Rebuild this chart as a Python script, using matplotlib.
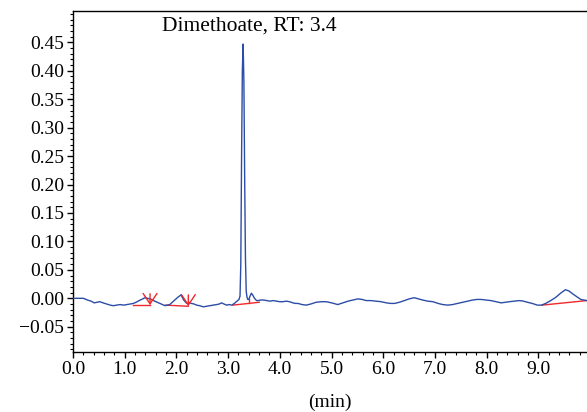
import numpy as np
import matplotlib
matplotlib.use("Agg")
import matplotlib.pyplot as plt
from matplotlib.ticker import MultipleLocator, FuncFormatter

# chromatogram trace (time in min, absorbance)
times = [0.00, 0.10, 0.20, 0.28, 0.35, 0.41, 0.47, 0.52, 0.58, 0.65, 0.72, 0.78,
         0.85, 0.91, 0.98, 1.04, 1.10, 1.17, 1.24, 1.30, 1.35, 1.39, 1.44, 1.49,
         1.54, 1.58, 1.63, 1.68, 1.73, 1.78, 1.83, 1.87, 1.92, 1.97, 2.03, 2.09,
         2.14, 2.20, 2.25, 2.29, 2.34, 2.39, 2.45, 2.52, 2.58, 2.65, 2.71, 2.78,
         2.83, 2.87, 2.92, 2.97, 3.02, 3.07, 3.12, 3.16, 3.19, 3.21, 3.23, 3.245,
         3.26, 3.275, 3.29, 3.305, 3.32, 3.335, 3.35, 3.365, 3.38, 3.40, 3.425,
         3.45, 3.48, 3.51, 3.55, 3.58, 3.63, 3.68, 3.74, 3.81, 3.87, 3.94, 4.00,
         4.06, 4.12, 4.19, 4.25, 4.30, 4.35, 4.43, 4.51, 4.60, 4.70, 4.80, 4.90,
         5.00, 5.12, 5.22, 5.32, 5.42, 5.51, 5.59, 5.67, 5.76, 5.86, 5.96, 6.06,
         6.14, 6.22, 6.31, 6.41, 6.50, 6.60, 6.68, 6.76, 6.86, 6.96, 7.06, 7.15,
         7.25, 7.34, 7.44, 7.53, 7.63, 7.73, 7.81, 7.89, 7.98, 8.08, 8.18, 8.28,
         8.36, 8.44, 8.54, 8.63, 8.71, 8.79, 8.88, 8.98, 9.06, 9.14, 9.24, 9.34,
         9.43, 9.52, 9.59, 9.66, 9.74, 9.82, 9.88, 9.94]
signal = [0.000, 0.000, 0.000, -0.003, -0.005, -0.008, -0.007, -0.006, -0.008, -0.010, -0.012, -0.013,
          -0.012, -0.011, -0.012, -0.011, -0.010, -0.009, -0.006, -0.003, -0.001, 0.001, 0.000, -0.001,
          -0.003, -0.005, -0.007, -0.009, -0.011, -0.013, -0.012, -0.011, -0.007, -0.003, 0.002, 0.006,
          -0.003, -0.009, -0.008, -0.009, -0.010, -0.012, -0.013, -0.015, -0.014, -0.013, -0.012, -0.011,
          -0.010, -0.008, -0.010, -0.012, -0.011, -0.012, -0.009, -0.006, -0.004, -0.002, 0.004, 0.060,
          0.250, 0.400, 0.447, 0.380, 0.210, 0.070, 0.012, 0.002, -0.002, -0.002, 0.004,
          0.009, 0.005, 0.000, -0.004, -0.004, -0.003, -0.003, -0.004, -0.005, -0.004, -0.005, -0.006,
          -0.006, -0.005, -0.006, -0.008, -0.009, -0.009, -0.011, -0.012, -0.010, -0.007, -0.006, -0.006,
          -0.008, -0.011, -0.008, -0.005, -0.003, -0.001, -0.002, -0.004, -0.004, -0.005, -0.006, -0.008,
          -0.009, -0.009, -0.007, -0.004, -0.001, 0.001, -0.001, -0.003, -0.005, -0.006, -0.009, -0.011,
          -0.012, -0.011, -0.009, -0.007, -0.005, -0.003, -0.002, -0.002, -0.003, -0.004, -0.006, -0.008,
          -0.007, -0.006, -0.005, -0.004, -0.005, -0.007, -0.009, -0.012, -0.012, -0.009, -0.004, 0.002,
          0.009, 0.015, 0.013, 0.008, 0.003, -0.002, -0.003, -0.004]

# integration baselines (start/end time, start/end value)
base_t0 = [1.16, 1.79, 3.09, 9.07]
base_t1 = [1.49, 2.23, 3.60, 9.94]
base_y0 = [-0.012, -0.012, -0.012, -0.012]
base_y1 = [-0.012, -0.014, -0.007, -0.004]

# peak split marker (drop line) and arrow marks
drop_t = 3.41
drop_y = [-0.008, -0.001]
arrow_t = [1.49, 2.23]
arrow_tip = [-0.012, -0.014]
arrow_top = [0.008, 0.006]

label_text = "Dimethoate, RT: 3.4"
label_t, label_y = 3.40, 0.471

x_ticks = [0, 1, 2, 3, 4, 5, 6, 7, 8, 9]
y_ticks = [-0.05, 0.00, 0.05, 0.10, 0.15, 0.20, 0.25, 0.30, 0.35, 0.40, 0.45]

blue = "#2c4da6"
red = "#f0282c"

plt.rcParams['font.family'] = ['Liberation Serif', 'DejaVu Serif']

fig = plt.figure(figsize=(5.87, 4.12), dpi=100)
ax = fig.add_axes([73 / 587, 1 - 352 / 412, 1 - 73 / 587, (352 - 10.7) / 412])

ax.plot(times, signal, color=blue, lw=1.0, zorder=3)

for t0, t1, y0, y1 in zip(base_t0, base_t1, base_y0, base_y1):
    ax.plot([t0, t1], [y0, y1], color=red, lw=1.0, zorder=2)
ax.plot([drop_t, drop_t], drop_y, color=red, lw=1.0, zorder=2)

for t, tip, top in zip(arrow_t, arrow_tip, arrow_top):
    ax.annotate('', xy=(t, tip), xytext=(t, top),
                arrowprops=dict(arrowstyle='->,head_length=0.75,head_width=0.5',
                                color=red, lw=1.0, shrinkA=0, shrinkB=0),
                zorder=4)

ax.text(label_t, label_y, label_text, ha='center', va='baseline', fontsize=15.5)

ax.set_xlim(0, 9.94)
ax.set_ylim(-0.0944, 0.5056)

ax.set_xticks(x_ticks)
ax.set_yticks(y_ticks)
ax.xaxis.set_minor_locator(MultipleLocator(0.2))
ax.yaxis.set_minor_locator(MultipleLocator(0.01))
ax.xaxis.set_major_formatter(FuncFormatter(lambda v, p: f'{v:.1f}'))
ax.yaxis.set_major_formatter(FuncFormatter(lambda v, p: f'{v:.2f}'.replace('-', '\u2212')))

ax.tick_params(axis='both', which='major', direction='out', length=4.5, width=1.0,
               labelsize=14, pad=2)
ax.tick_params(axis='both', which='minor', direction='out', length=2.5, width=0.8)

ax.spines['right'].set_visible(False)
for s in ['left', 'bottom', 'top']:
    ax.spines[s].set_linewidth(1.0)

ax.set_xlabel('(min)', fontsize=14, labelpad=11)

fig.savefig('out.png', dpi=100)
